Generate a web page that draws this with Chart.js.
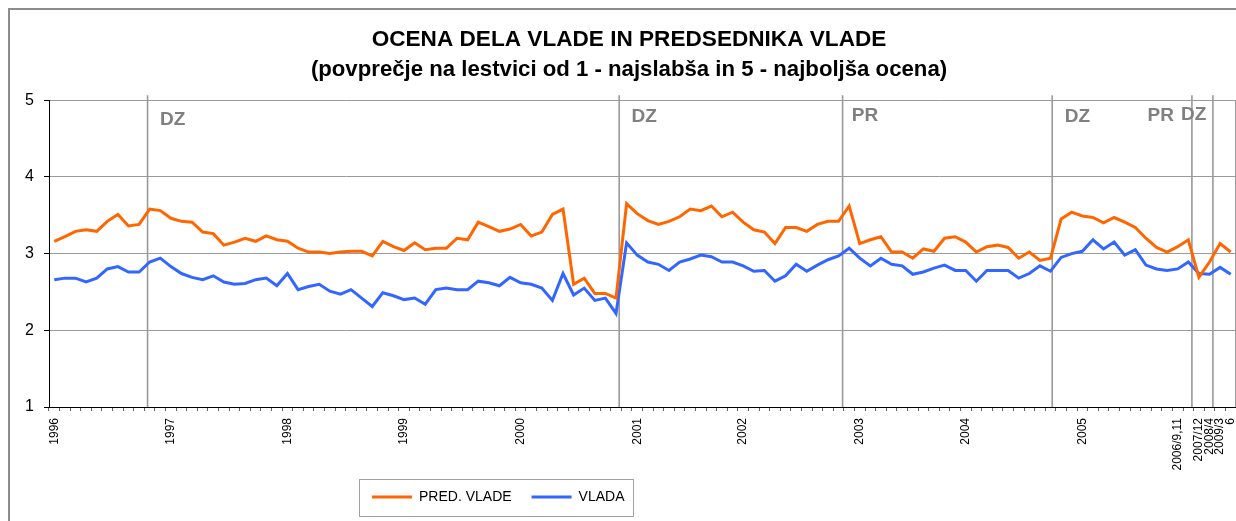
<!DOCTYPE html>
<html><head><meta charset="utf-8">
<script src="https://cdn.jsdelivr.net/npm/chart.js@4/dist/chart.umd.min.js"></script>
<style>html,body{margin:0;padding:0;background:#fff;} canvas{display:block;}</style>
</head><body>
<canvas id="c" width="1236" height="521"></canvas>
<script>
// ---- data ----
const tickLabelIndex = [0, 11, 22, 33, 44, 55, 65, 76, 86, 97, 106, 108, 109, 110, 111];
const tickLabelText = ['1996','1997','1998','1999','2000','2001','2002','2003','2004','2005','2006/9,11','2007/12','2008/4','2009/3','6'];
const pointCount = 112;

const predVlade = [3.16,3.22,3.29,3.31,3.29,3.42,3.51,3.36,3.38,3.58,3.56,3.46,3.42,3.41,3.28,3.26,3.11,3.15,3.20,3.16,
3.23,3.18,3.16,3.07,3.02,3.02,3.00,3.02,3.03,3.03,2.97,3.16,3.09,3.04,3.14,3.05,3.07,3.07,3.20,3.18,
3.41,3.35,3.29,3.32,3.38,3.23,3.28,3.51,3.58,2.60,2.68,2.48,2.48,2.42,3.65,3.52,3.43,3.38,3.42,3.48,
3.58,3.56,3.62,3.48,3.54,3.41,3.31,3.28,3.13,3.34,3.34,3.29,3.38,3.42,3.42,3.62,3.13,3.18,3.22,3.02,
3.02,2.94,3.06,3.03,3.20,3.22,3.15,3.02,3.09,3.11,3.08,2.94,3.02,2.91,2.94,3.45,3.54,3.49,3.47,3.40,
3.47,3.41,3.34,3.20,3.08,3.02,3.09,3.18,2.69,2.89,3.13,3.02];

const vlada = [2.66,2.68,2.68,2.63,2.68,2.80,2.83,2.76,2.76,2.89,2.94,2.83,2.74,2.69,2.66,2.71,2.63,2.60,2.61,2.66,
2.68,2.58,2.74,2.53,2.57,2.60,2.51,2.47,2.53,2.42,2.31,2.49,2.45,2.40,2.42,2.34,2.53,2.55,2.53,2.53,
2.64,2.62,2.58,2.69,2.62,2.60,2.55,2.39,2.74,2.46,2.55,2.39,2.42,2.22,3.14,2.98,2.89,2.86,2.78,2.89,
2.93,2.98,2.96,2.89,2.89,2.84,2.77,2.78,2.64,2.71,2.86,2.77,2.85,2.92,2.97,3.07,2.94,2.84,2.94,2.86,
2.84,2.73,2.76,2.81,2.85,2.78,2.78,2.64,2.78,2.78,2.78,2.68,2.74,2.84,2.77,2.95,3.00,3.03,3.18,3.06,
3.15,2.98,3.05,2.85,2.80,2.78,2.80,2.89,2.74,2.73,2.82,2.73];

const yTicks = [1, 2, 3, 4, 5];

// election markers (category index position) and their labels
const markerAt = [8.80, 53.30, 74.38, 94.16, 107.34, 109.32];
const markerText = ['DZ', 'DZ', 'PR', 'DZ', 'PR', 'DZ'];
const markerLabelAt = [9.98, 54.46, 75.24, 95.35, 103.16, 106.31];
const markerLabelY = [4.74, 4.785, 4.80, 4.78, 4.80, 4.81];

// ---- build categories ----
const categories = new Array(pointCount).fill('');
tickLabelIndex.forEach((idx, k) => { categories[idx] = tickLabelText[k]; });

const FONT = "'Liberation Sans', Arial, sans-serif";
Chart.defaults.color = '#000';
Chart.defaults.font.family = FONT;

const frame = {
  id: 'frame',
  beforeDraw(chart) {
    const ctx = chart.ctx;
    ctx.save();
    ctx.fillStyle = '#fff';
    ctx.fillRect(0, 0, chart.width, chart.height);
    ctx.strokeStyle = '#8c8c8c';
    ctx.lineWidth = 2;
    ctx.strokeRect(9, 9, chart.width + 20, chart.height + 20);
    ctx.restore();
  },
  afterDraw(chart) {
    const ctx = chart.ctx, a = chart.chartArea;
    ctx.save();
    ctx.strokeStyle = '#9a9a9a';
    ctx.lineWidth = 1;
    ctx.beginPath();
    ctx.moveTo(a.right - 0.5, a.top);
    ctx.lineTo(a.right - 0.5, a.bottom);
    ctx.stroke();
    // legend frame
    const lg = chart.legend;
    if (lg && lg.legendHitBoxes && lg.legendHitBoxes.length) {
      const hb = lg.legendHitBoxes;
      const l = Math.min(...hb.map(h => h.left)) - 13;
      const r = Math.max(...hb.map(h => h.left + h.width)) + 9;
      const t = hb[0].top - 11;
      const b = hb[0].top + hb[0].height + 12;
      ctx.strokeStyle = '#a0a0a0';
      ctx.lineWidth = 1;
      ctx.strokeRect(Math.round(l) + 0.5, Math.round(t) + 0.5, Math.round(r - l), Math.round(b - t));
    }
    ctx.restore();
  }
};

const markers = {
  id: 'markers',
  beforeDatasetsDraw(chart) {
    const ctx = chart.ctx, x = chart.scales.x, y = chart.scales.y, a = chart.chartArea;
    ctx.save();
    ctx.strokeStyle = '#999';
    ctx.lineWidth = 1.6;
    markerAt.forEach(m => {
      const px = x.getPixelForValue(m);
      ctx.beginPath();
      ctx.moveTo(px, a.top - 5);
      ctx.lineTo(px, a.bottom);
      ctx.stroke();
    });
    ctx.fillStyle = '#808080';
    ctx.font = 'bold 19px ' + FONT;
    ctx.textAlign = 'left';
    ctx.textBaseline = 'middle';
    markerText.forEach((t, i) => {
      ctx.fillText(t, x.getPixelForValue(markerLabelAt[i]), y.getPixelForValue(markerLabelY[i]));
    });
    ctx.restore();
  }
};

const legendPlace = {
  id: 'legendPlace',
  afterLayout(chart) {
    const lg = chart.legend;
    const w = lg.right - lg.left;
    lg.left = 352;
    lg.right = 352 + w;
  }
};

new Chart(document.getElementById('c'), {
  type: 'line',
  data: {
    labels: categories,
    datasets: [
      { label: 'PRED. VLADE', data: predVlade, borderColor: '#FF6600', backgroundColor: '#FF6600', borderWidth: 3, pointRadius: 0, tension: 0 },
      { label: 'VLADA', data: vlada, borderColor: '#3366FF', backgroundColor: '#3366FF', borderWidth: 3, pointRadius: 0, tension: 0 }
    ]
  },
  options: {
    responsive: false,
    animation: false,
    devicePixelRatio: 1,
    layout: { padding: { top: 10, left: 22, right: 0, bottom: 7 } },
    plugins: {
      title: {
        display: true,
        text: 'OCENA DELA VLADE IN PREDSEDNIKA VLADE',
        font: { size: 22.6, weight: 'bold', family: FONT },
        color: '#000',
        padding: { top: 16.6, bottom: 0 }
      },
      subtitle: {
        display: true,
        text: '(povprečje na lestvici od 1 - najslabša in 5 - najboljša ocena)',
        font: { size: 22.2, weight: 'bold', family: FONT },
        color: '#000',
        padding: { top: 3.2, bottom: 16.6 }
      },
      legend: {
        position: 'bottom',
        align: 'start',
        labels: {
          usePointStyle: true,
          pointStyle: 'line',
          pointStyleWidth: 40,
          boxHeight: 14,
          padding: 20,
          color: '#000',
          font: { size: 14, family: FONT }
        }
      },
      tooltip: { enabled: false }
    },
    scales: {
      x: {
        offset: true,
        grid: { display: true, drawOnChartArea: false, drawTicks: true, tickLength: 4, offset: true, tickColor: '#666' },
        border: { display: true, color: '#000', width: 1 },
        ticks: { autoSkip: false, maxRotation: 90, minRotation: 90, padding: 7, font: { size: 12, family: FONT }, color: '#000' },
        afterFit(s) { s.height = 63; s.paddingLeft = 0; s.paddingRight = 0; }
      },
      y: {
        min: 1, max: 5,
        afterBuildTicks(s) { s.ticks = yTicks.map(v => ({ value: v })); },
        grid: { color: '#9a9a9a', lineWidth: 1, drawTicks: true, tickLength: 5, tickColor: '#000' },
        border: { display: true, color: '#000', width: 1 },
        ticks: { padding: 10, font: { size: 16, family: FONT }, color: '#000' },
        afterFit(s) { s.width = 27; }
      }
    }
  },
  plugins: [frame, markers, legendPlace]
});
</script>
</body></html>
